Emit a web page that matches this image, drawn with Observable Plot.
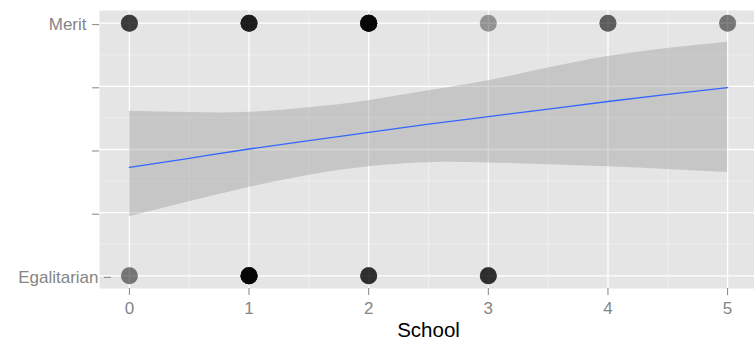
<!DOCTYPE html>
<html>
<head>
<meta charset="utf-8">
<script src="https://cdn.jsdelivr.net/npm/d3@7"></script>
<script src="https://cdn.jsdelivr.net/npm/@observablehq/plot@0.6"></script>
<style>
  html, body { margin: 0; padding: 0; background: white; overflow: hidden; }
</style>
</head>
<body>
<div id="chart"></div>
<script>
// --- data ---
const meritSchools = [0, 1, 2, 3, 4, 5];
const meritCounts  = [6, 9, 15, 2, 4, 3];      // overlapping observations (alpha stacking)
const egalSchools  = [0, 1, 2, 3];
const egalCounts   = [3, 15, 7, 7];

// smoother (fitted line and confidence band), outcome coded 0 = Egalitarian, 1 = Merit
const fitX    = [0, 0.5, 1, 1.5, 2, 2.5, 3, 3.5, 4, 4.5, 5];
const fitY    = [0.429, 0.465, 0.502, 0.535, 0.568, 0.600, 0.630, 0.660, 0.690, 0.718, 0.745];
const fitLow  = [0.234, 0.293, 0.350, 0.398, 0.432, 0.448, 0.447, 0.440, 0.432, 0.421, 0.409];
const fitHigh = [0.651, 0.646, 0.647, 0.665, 0.693, 0.732, 0.772, 0.822, 0.868, 0.900, 0.924];

const xTicks = [0, 1, 2, 3, 4, 5];
const xMinor = [0.5, 1.5, 2.5, 3.5, 4.5];
const yTicks = [0, 0.25, 0.5, 0.75, 1];
const yTickLabels = ["Egalitarian", "", "", "", "Merit"];
const yMinor = [0.125, 0.375, 0.625, 0.875];
const xTitle = "School";

// --- build tables ---
const points = [];
meritSchools.forEach((s, i) => { for (let k = 0; k < meritCounts[i]; k++) points.push({school: s, outcome: 1}); });
egalSchools.forEach((s, i) => { for (let k = 0; k < egalCounts[i]; k++) points.push({school: s, outcome: 0}); });
const fit = fitX.map((x, i) => ({x, y: fitY[i], lo: fitLow[i], hi: fitHigh[i]}));
const labelOf = d => yTickLabels[yTicks.indexOf(d)];

const font = "'Liberation Sans', Arial, Helvetica, sans-serif";
const axisColor = "#858585";

const chart = Plot.plot({
  width: 754,
  height: 339,
  marginLeft: 99,
  marginRight: 0,
  marginTop: 10,
  marginBottom: 51,
  style: {fontFamily: font, background: "white", overflow: "hidden"},
  x: {domain: [-0.25, 5.25], range: [99, 757]},
  y: {domain: [-0.05, 1.05]},
  marks: [
    Plot.frame({fill: "#E5E5E5", stroke: null}),
    Plot.gridX(xMinor, {stroke: "#F2F2F2", strokeOpacity: 1, strokeWidth: 0.7}),
    Plot.gridY(yMinor, {stroke: "#F2F2F2", strokeOpacity: 1, strokeWidth: 0.7}),
    Plot.gridX(xTicks, {stroke: "white", strokeOpacity: 1, strokeWidth: 1.3}),
    Plot.gridY(yTicks, {stroke: "white", strokeOpacity: 1, strokeWidth: 1.3}),
    Plot.dot(points, {x: "school", y: "outcome", r: 8.5, fill: "black", fillOpacity: 0.2, stroke: null}),
    Plot.areaY(fit, {x: "x", y1: "lo", y2: "hi", fill: "#999999", fillOpacity: 0.4, curve: "natural"}),
    Plot.line(fit, {x: "x", y: "y", stroke: "#3366FF", strokeWidth: 1.3, curve: "natural"}),
    Plot.axisX(xTicks, {tickSize: 7, tickPadding: 6, fontSize: 17, color: axisColor, label: null, tickFormat: d => String(d)}),
    Plot.axisY(yTicks.slice(1), {tickSize: 7, tickPadding: 6, fontSize: 17, color: axisColor, label: null, dy: 1.5,
      tickFormat: labelOf}),
    Plot.axisY(yTicks.slice(0, 1), {tickSize: 7, tickPadding: 6, fontSize: 17, color: axisColor, label: null, dy: 1.5,
      textStroke: "white", textStrokeWidth: 2, dx: 12, tickFormat: labelOf}),
    Plot.text([xTitle], {x: 2.5, frameAnchor: "bottom", lineAnchor: "bottom", dy: 48, text: d => d,
      fontSize: 20.5, fill: "black", textAnchor: "middle"})
  ]
});
document.getElementById("chart").appendChild(chart);
</script>
</body>
</html>
